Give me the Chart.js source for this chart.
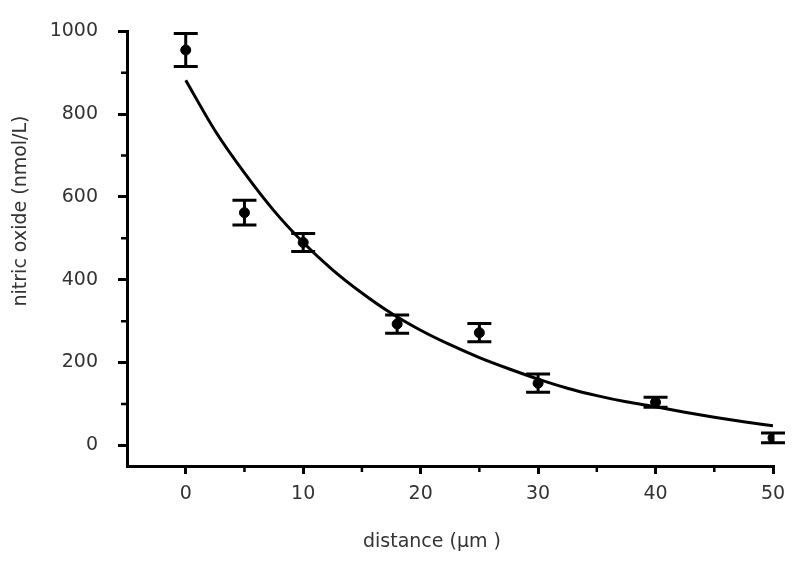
<!DOCTYPE html>
<html>
<head>
<meta charset="utf-8">
<script src="https://cdn.jsdelivr.net/npm/chart.js@4.4.0/dist/chart.umd.min.js"></script>
<style>
  html, body { margin: 0; padding: 0; background: #fff; }
  #wrap { width: 800px; height: 564px; }
</style>
</head>
<body>
<div id="wrap"><canvas id="chart" width="800" height="564"></canvas></div>
<script>
// measured points (distance in µm, NO in nmol/L, error = half bar height)
const distances = [0, 5, 10, 18, 25, 30, 40, 50];
const noValues = [955, 562, 490, 293, 272, 150, 104, 18];
const noErrors = [40, 30, 22, 22, 22, 22, 12, 12];

// fitted decay curve
const fitX = [0, 2.5, 5, 7.5, 10, 12.5, 15, 17.5, 20, 22.5, 25, 27.5, 30, 32.5, 35, 37.5, 40, 42.5, 45, 47.5, 50];
const fitY = [882, 760, 658, 567, 490, 424, 368, 319, 278, 243, 212, 185, 160, 138, 120, 105, 93, 80, 68, 57, 47];

// axis ticks
const xMajorTicks = [0, 10, 20, 30, 40, 50];
const xMinorTicks = [5, 15, 25, 35, 45];
const yMajorTicks = [0, 200, 400, 600, 800, 1000];
const yMinorTicks = [100, 300, 500, 700, 900];

const xTitle = 'distance (µm )';
const yTitle = 'nitric oxide (nmol/L)';

const labelFont = { family: 'DejaVu Sans, sans-serif', size: 19 };

// error bars, minor ticks and axis titles
const extrasPlugin = {
  id: 'extras',
  afterDatasetsDraw(chart) {
    const ctx = chart.ctx;
    const xs = chart.scales.x, ys = chart.scales.y;
    ctx.save();
    ctx.strokeStyle = '#000';
    ctx.lineCap = 'butt';
    distances.forEach((d, i) => {
      const px = xs.getPixelForValue(d);
      const top = ys.getPixelForValue(noValues[i] + noErrors[i]);
      const bot = ys.getPixelForValue(noValues[i] - noErrors[i]);
      ctx.lineWidth = 3;
      ctx.beginPath();
      ctx.moveTo(px, top); ctx.lineTo(px, bot);
      ctx.stroke();
      ctx.lineWidth = 3;
      ctx.beginPath();
      ctx.moveTo(px - 12, top); ctx.lineTo(px + 12, top);
      ctx.moveTo(px - 12, bot); ctx.lineTo(px + 12, bot);
      ctx.stroke();
    });
    ctx.restore();
  },
  afterDraw(chart) {
    const ctx = chart.ctx;
    const xs = chart.scales.x, ys = chart.scales.y;
    const area = chart.chartArea;
    ctx.save();
    ctx.strokeStyle = '#000';
    ctx.lineWidth = 2.5;
    ctx.beginPath();
    xMinorTicks.forEach(v => {
      const px = xs.getPixelForValue(v);
      ctx.moveTo(px, area.bottom); ctx.lineTo(px, area.bottom + 6);
    });
    yMinorTicks.forEach(v => {
      const py = ys.getPixelForValue(v);
      ctx.moveTo(area.left, py); ctx.lineTo(area.left - 6, py);
    });
    ctx.stroke();

    ctx.fillStyle = '#333';
    ctx.font = labelFont.size + 'px ' + labelFont.family;
    ctx.textAlign = 'center';
    ctx.textBaseline = 'middle';
    ctx.fillText(xTitle, 432, 542);
    ctx.translate(21, 211);
    ctx.rotate(-Math.PI / 2);
    ctx.fillText(yTitle, 0, 0);
    ctx.restore();
  }
};

new Chart(document.getElementById('chart').getContext('2d'), {
  type: 'scatter',
  data: {
    datasets: [
      {
        label: 'fit',
        type: 'line',
        data: fitX.map((x, i) => ({ x: x, y: fitY[i] })),
        borderColor: '#000',
        borderWidth: 3,
        pointRadius: 0,
        cubicInterpolationMode: 'monotone',
        fill: false
      },
      {
        label: 'nitric oxide',
        data: distances.map((x, i) => ({ x: x, y: noValues[i] })),
        backgroundColor: '#000',
        borderColor: '#000',
        pointStyle: 'circle',
        pointRadius: 5
      }
    ]
  },
  options: {
    responsive: false,
    animation: false,
    layout: { padding: { top: 28, right: 27, left: 0, bottom: 0 } },
    plugins: {
      legend: { display: false },
      tooltip: { enabled: false }
    },
    scales: {
      x: {
        type: 'linear',
        min: -5,
        max: 50,
        afterBuildTicks: s => { s.ticks = xMajorTicks.map(v => ({ value: v })); },
        afterFit: s => { s.height = 98; },
        ticks: { color: '#333', font: labelFont, padding: 9, callback: v => String(v) },
        grid: { drawOnChartArea: false, drawTicks: true, tickLength: 8, color: '#000', lineWidth: 3 },
        border: { display: true, color: '#000', width: 3 }
      },
      y: {
        type: 'linear',
        min: -50,
        max: 1000,
        afterBuildTicks: s => { s.ticks = yMajorTicks.map(v => ({ value: v })); },
        afterFit: s => { s.width = 127; },
        ticks: { color: '#333', font: labelFont, padding: 20, callback: v => String(v) },
        grid: { drawOnChartArea: false, drawTicks: true, tickLength: 9, color: '#000', lineWidth: 3 },
        border: { display: true, color: '#000', width: 3 }
      }
    }
  },
  plugins: [extrasPlugin]
});
</script>
</body>
</html>
